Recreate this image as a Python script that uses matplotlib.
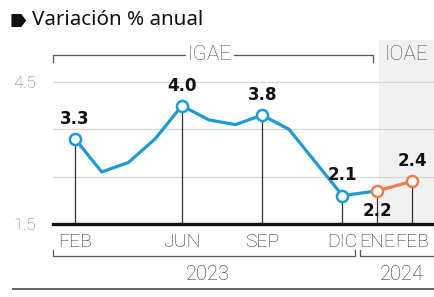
import matplotlib
matplotlib.use('Agg')
import matplotlib.pyplot as plt
from matplotlib import font_manager as fm
from matplotlib.patches import Rectangle, Polygon

# ---------------- data ----------------
title = 'Variación % anual'
months_2023 = ['FEB', 'MAR', 'ABR', 'MAY', 'JUN', 'JUL', 'AGO', 'SEP', 'OCT', 'NOV', 'DIC']
months_2024 = ['ENE', 'FEB']
igae = [3.3, 2.6, 2.8, 3.3, 4.0, 3.7, 3.6, 3.8, 3.5, 2.8, 2.1]
ioae = [2.2, 2.4]
labeled_2023 = ['FEB', 'JUN', 'SEP', 'DIC']
years = ['2023', '2024']
section_labels = ['IGAE', 'IOAE']
ytick_vals = [1.5, 4.5]
ytick_labels = ['1.5', '4.5']
grid_vals = [2.5, 3.5, 4.5]

# ---------------- style ----------------
BLUE = '#1b9bd7'
ORANGE = '#ef7d4b'
names = {f.name for f in fm.fontManager.ttflist}
COND = 'Liberation Sans Narrow' if 'Liberation Sans Narrow' in names else 'Roboto'
CW = 'light'
BOLD = 'DejaVu Sans'
TITLEF = 'Noto Sans'

W, H = 434, 297
fig = plt.figure(figsize=(W / 100, H / 100), dpi=100)
fig.patch.set_facecolor('white')

base_px, top_px = 224, 82      # pixel rows of 1.5 and 4.5
PPU = (base_px - top_px) / 3.0
ymin = 1.5
ymax = ymin + (base_px - 63) / PPU
step24 = 1.3
xlo, xhi = -0.82, 10 + 2 * step24 + 0.82

ax = fig.add_axes([53 / W, (H - base_px) / H, (W - 53) / W, (base_px - 63) / H])
ax.set_xlim(xlo, xhi)
ax.set_ylim(ymin, ymax)
ax.patch.set_visible(False)
for s in ax.spines.values():
    s.set_visible(False)

x23 = list(range(len(months_2023)))
x24 = [x23[-1] + step24 * (k + 1) for k in range(len(months_2024))]

# shading for IOAE area
shade_top = ymin + (base_px - 40) / PPU
ax.add_patch(Rectangle((x24[0] + 0.05, ymin), xhi - x24[0], shade_top - ymin,
                       facecolor='#f1f1f1', edgecolor='none', zorder=0, clip_on=False))

for g in grid_vals:
    ax.axhline(g, color='#d6d6d6', lw=0.9, zorder=1)
ax.axhline(ymin, color='#111111', lw=2.4, zorder=5, clip_on=False)

# stems
stem_x = [x23[months_2023.index(m)] for m in labeled_2023] + x24
stem_y = [igae[months_2023.index(m)] for m in labeled_2023] + ioae
ax.vlines(stem_x, ymin, stem_y, color='#333333', lw=0.9, zorder=2)

# lines
ax.plot(x23 + [x24[0]], igae + [ioae[0]], color=BLUE, lw=2.3, zorder=3,
        solid_joinstyle='round', solid_capstyle='round')
ax.plot(x24, ioae, color=ORANGE, lw=2.3, zorder=3)

lx = [x23[months_2023.index(m)] for m in labeled_2023]
ly = [igae[months_2023.index(m)] for m in labeled_2023]
ax.plot(lx, ly, 'o', ms=8, mfc='white', mec=BLUE, mew=1.8, zorder=4)
ax.plot(x24, ioae, 'o', ms=8, mfc='white', mec=ORANGE, mew=1.8, zorder=4)

# value labels
for x, y in zip(lx, ly):
    ax.annotate(f'{y:.1f}', (x, y), xytext=(0, 14.5), textcoords='offset points',
                ha='center', va='center', fontsize=12, fontweight='bold',
                family=BOLD, color='#111111', zorder=6)
for k, (x, y) in enumerate(zip(x24, ioae)):
    off = -14.5 if k == 0 else 14.5
    ax.annotate(f'{y:.1f}', (x, y), xytext=(0, off), textcoords='offset points',
                ha='center', va='center', fontsize=12, fontweight='bold',
                family=BOLD, color='#111111', zorder=6)

# x ticks
tick_x = lx + x24
tick_lbl = labeled_2023 + months_2024
ax.set_xticks(tick_x)
ax.set_xticklabels(tick_lbl, family=COND, fontsize=14, color='#333333', fontweight=CW)
ax.tick_params(axis='x', length=0, pad=6.5)
ax.set_yticks(ytick_vals)
ax.set_yticklabels(ytick_labels, family=COND, fontsize=12.5, color='#7a7a7a', fontweight=CW)
for t in ax.get_yticklabels():
    t.set_ha('left')
ax.tick_params(axis='y', length=0, pad=(53 - 13) * 0.72)

# ---------------- overlay in pixel coords ----------------
ov = fig.add_axes([0, 0, 1, 1], zorder=10)
ov.set_xlim(0, W)
ov.set_ylim(H, 0)
ov.axis('off')
ov.patch.set_alpha(0)

ov.add_patch(Polygon([(12, 14.5), (21, 14.5), (25.5, 20.5), (21, 26.5), (12, 26.5)],
                     closed=True, facecolor='#111111', edgecolor='#111111',
                     lw=0.8, joinstyle='round'))
ov.text(32, 20, title, fontsize=14.8, family=TITLEF, color='#111111',
        ha='left', va='center', fontweight='medium')

gray = '#555555'
ov.plot([53, 53, 373, 373], [62, 55, 55, 62], color=gray, lw=0.9)
ov.text(210, 55, section_labels[0], fontsize=15, family=COND, color=gray,
        ha='center', va='center', fontweight=CW,
        bbox=dict(facecolor='white', edgecolor='none', pad=1.5))
ov.text(406, 55, section_labels[1], fontsize=15, family=COND, color=gray,
        ha='center', va='center', fontweight=CW)

ov.plot([53, 53, 355, 355], [250, 256, 256, 250], color=gray, lw=0.9)
ov.plot([360, 360, 440], [250, 256, 256], color=gray, lw=0.9)
ov.text(208, 275, years[0], fontsize=14.5, family=COND, color='#333333',
        ha='center', va='center', fontweight=CW)
ov.text(402, 275, years[1], fontsize=14.5, family=COND, color='#333333',
        ha='center', va='center', fontweight=CW)
ov.plot([13, W], [289, 289], color='#666666', lw=1.4)

fig.savefig('out.png', dpi=100, facecolor='white')
